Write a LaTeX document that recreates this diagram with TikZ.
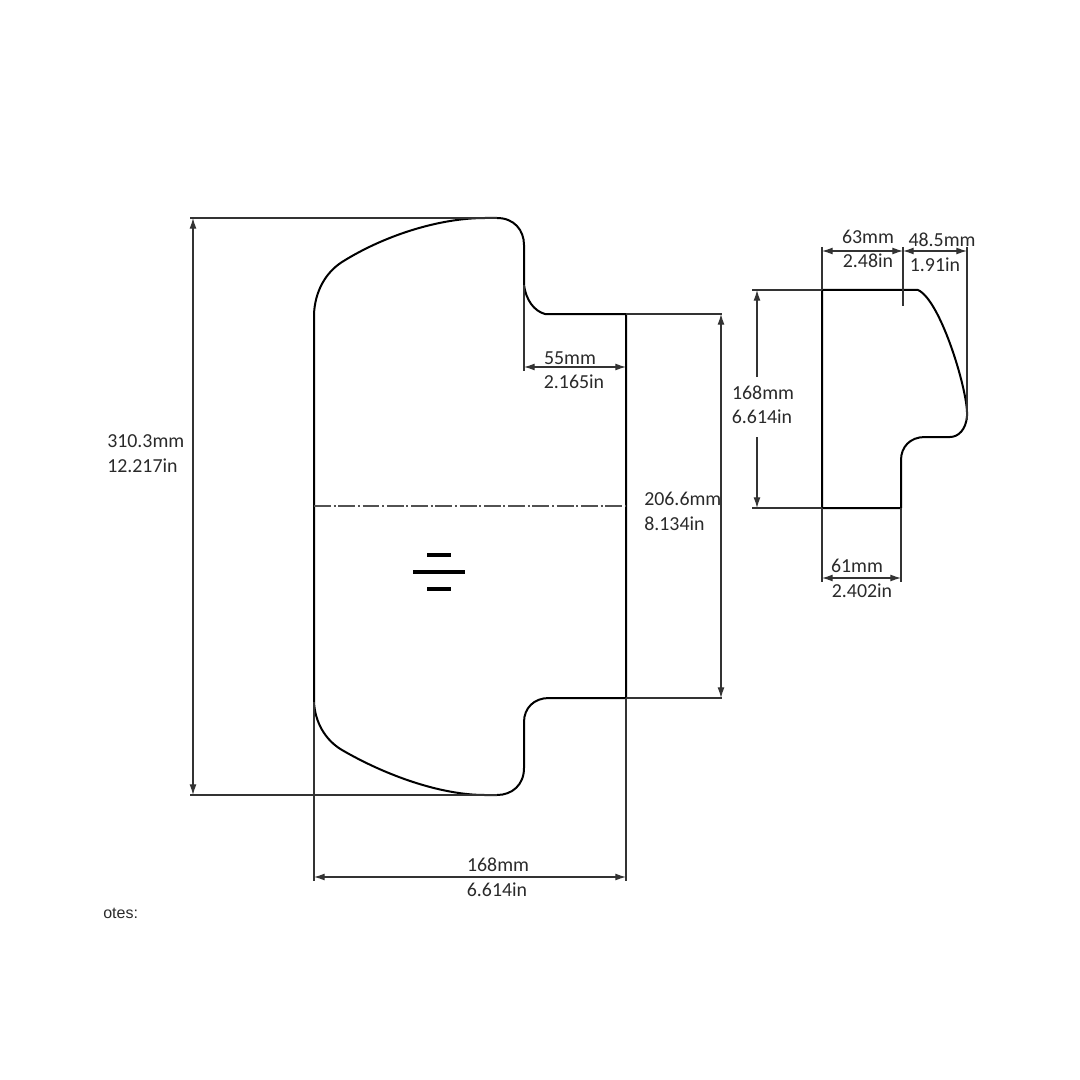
\documentclass[tikz,border=0pt]{standalone}
\usepackage{fontspec}
\setmainfont{Carlito}
\newfontfamily\notefont{Liberation Sans}
\usetikzlibrary{arrows.meta}
\definecolor{dimc}{HTML}{333333}
\definecolor{txtc}{HTML}{2A2A2A}
\tikzset{
  x=0.75pt,y=-0.75pt,
  tip/.tip={Latex[length=8pt,width=5.2pt]},
  outline/.style={line width=1.5pt,black,line join=round},
  extline/.style={line width=0.85pt,dimc},
  dimline/.style={line width=0.85pt,dimc,tip-tip},
  halfdim/.style={line width=0.85pt,dimc,-tip},
  centre/.style={line width=0.9pt,dimc!85,dash pattern=on 12.7pt off 2pt on 1.5pt off 2pt},
  lab/.style={inner sep=0pt,text=txtc,font=\fontsize{14.9pt}{17pt}\selectfont},
  labl/.style={lab,anchor=west},
  sym/.style={line width=3pt,black}
}
\begin{document}
\begin{tikzpicture}
\useasboundingbox (0,0) rectangle (1080,1080);
% main outline
\draw[outline] (314,314) .. controls (315,292) and (325,273) .. (342,262)
  .. controls (385,235) and (440,218) .. (485,218) -- (497,218)
  .. controls (514,218) and (524,230) .. (524,245) -- (524,285)
  .. controls (526,300) and (534,311) .. (545,314) -- (626,314) -- (626,698) -- (549,698)
  .. controls (534,698) and (524,708) .. (524,722) -- (524,768)
  .. controls (524,785) and (512,795) .. (497,795) -- (485,795)
  .. controls (440,795) and (385,775) .. (342,750)
  .. controls (325,740) and (315,722) .. (314,702) -- cycle;
% side outline
\draw[outline] (822,290) -- (918,290)
  .. controls (940,300) and (966,385) .. (967,412) -- (967,416)
  .. controls (966,430) and (958,437) .. (950,437) -- (925,437)
  .. controls (910,437) and (901,447) .. (901,460) -- (901,508) -- (822,508) -- cycle;
% centre line and symbol
\coordinate (cl) at (314,506); \coordinate (cr) at (626,506);
\draw[centre] (cl) -- (cr);
\draw[sym] (427,555) -- (451,555);
\draw[sym] (413,572) -- (465,572);
\draw[sym] (427,589) -- (451,589);
% extension lines main
\draw[extline] (190,218) -- (497,218);
\draw[extline] (190,795) -- (497,795);
\draw[extline] (524,285) -- (524,371);
\draw[extline] (626,314) -- (722,314);
\draw[extline] (626,698) -- (722,698);
\draw[extline] (314,702) -- (314,881);
\draw[extline] (626,698) -- (626,881);
% dimensions main
\draw[dimline] (193,218) -- (193,795);
\draw[dimline] (524,367) -- (626,367);
\draw[dimline] (721,314) -- (721,698);
\draw[dimline] (314,877) -- (626,877);
% extension lines side
\draw[extline] (822,247) -- (822,290);
\draw[extline] (903,247) -- (903,306);
\draw[extline] (967,247) -- (967,420);
\draw[extline] (752,290) -- (822,290);
\draw[extline] (752,508) -- (822,508);
\draw[extline] (822,508) -- (822,582);
\draw[extline] (901,508) -- (901,582);
% dimensions side
\draw[dimline] (822,251) -- (903,251);
\draw[dimline] (903,251) -- (967,251);
\coordinate (dt) at (757,290); \coordinate (db) at (757,508);
\draw[halfdim] (757,377) -- (dt);
\draw[halfdim] (757,437) -- (db);
\draw[dimline] (822,578) -- (901,578);
% labels
\node[labl] (a1) at (107,441) {310.3mm};
\node[labl] (a2) at (107,466) {12.217in};
\node[lab] (b1) at (570,358) {55mm};
\node[lab] (b2) at (574,382) {2.165in};
\node[labl] (c1) at (644,499) {206.6mm};
\node[labl] (c2) at (644,524) {8.134in};
\node[lab] (d1) at (498,865) {168mm};
\node[lab] (d2) at (497,890) {6.614in};
\node[lab] (e1) at (868,237) {63mm};
\node[lab] (e2) at (868,261) {2.48in};
\node[lab] (f1) at (942,240) {48.5mm};
\node[lab] (f2) at (935,265) {1.91in};
\node[lab] (g1) at (763,393) {168mm};
\node[lab] (g2) at (762,417) {6.614in};
\node[lab] (h1) at (857,566) {61mm};
\node[lab] (h2) at (862,591) {2.402in};
\node[inner sep=0pt,anchor=west,text=txtc,font=\notefont\fontsize{12pt}{14pt}\selectfont] (n) at (103,913) {otes:};
\end{tikzpicture}
\end{document}
